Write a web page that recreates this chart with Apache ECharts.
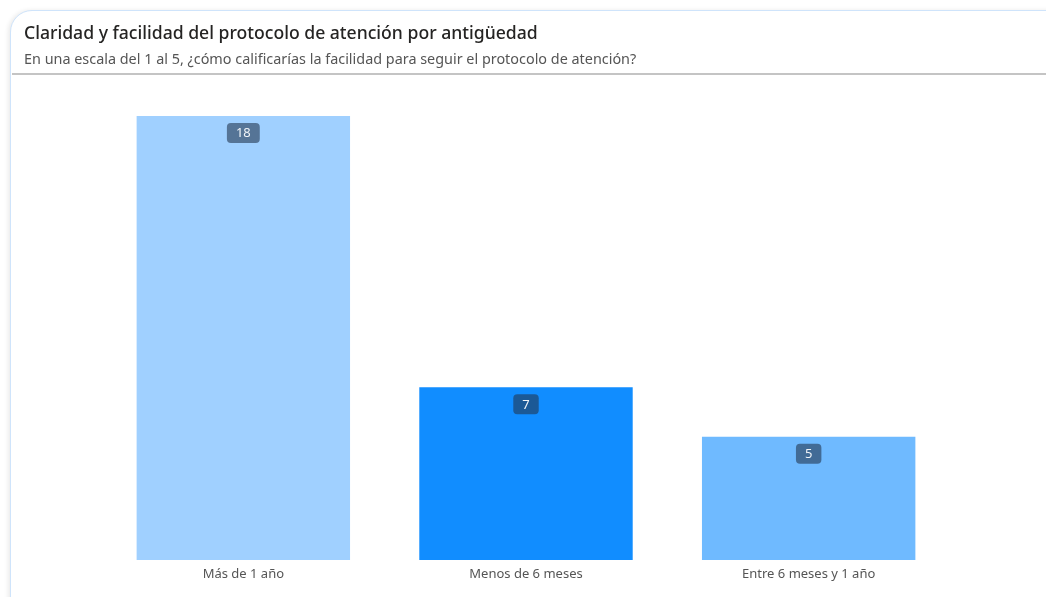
<!DOCTYPE html>
<html><head><meta charset="utf-8">
<script src="https://cdn.jsdelivr.net/npm/echarts@6/dist/echarts.min.js"></script>
<style>
html,body{margin:0;padding:0;background:#fff;width:1046px;height:597px;overflow:hidden}
#card{position:absolute;left:10px;top:10px;width:1060px;height:610px;border:1.5px solid #cfe4fb;border-radius:22px;box-shadow:-2px 0 4px rgba(0,0,0,0.08);background:#fff}
#chart{position:absolute;left:0;top:0;width:1046px;height:597px}
</style></head><body>
<div id="card"></div>
<div id="chart"></div>
<script>
const categories = ['Más de 1 año', 'Menos de 6 meses', 'Entre 6 meses y 1 año'];
const values = [18, 7, 5];
const barColors = ['#a0d0ff', '#118dff', '#6fbaff'];

const chart = echarts.init(document.getElementById('chart'));
chart.setOption({
  animation: false,
  title: {
    text: 'Claridad y facilidad del protocolo de atención por antigüedad',
    subtext: 'En una escala del 1 al 5, ¿cómo calificarías la facilidad para seguir el protocolo de atención?',
    left: 19, top: 20, itemGap: 10,
    textStyle: { fontFamily: 'Noto Sans', fontSize: 17.6, fontWeight: 500, color: '#252423' },
    subtextStyle: { fontFamily: 'Noto Sans', fontSize: 14.4, color: '#555' }
  },
  graphic: [{ type: 'rect', shape: { x: 12, y: 73, width: 1040, height: 2 }, style: { fill: '#c4c4c4' } }],
  grid: { left: 102, right: 96, top: 116, bottom: 37 },
  xAxis: {
    type: 'category', data: categories,
    axisLine: { show: false }, axisTick: { show: false },
    axisLabel: { color: '#555', fontSize: 13, fontFamily: 'Noto Sans', margin: 8 }
  },
  yAxis: { type: 'value', min: 0, max: 18, show: false, splitLine: { show: false } },
  series: [{
    type: 'bar', barWidth: '75.5%',
    data: values.map((v, i) => ({ value: v, itemStyle: { color: barColors[i] } })),
    label: {
      show: true, position: 'insideTop', distance: 7,
      color: '#f0f4f8', fontSize: 13, fontFamily: 'Noto Sans',
      backgroundColor: 'rgba(35,55,80,0.6)', borderRadius: 4, padding: [4, 9, 3, 9]
    }
  }]
});
</script>
</body></html>
